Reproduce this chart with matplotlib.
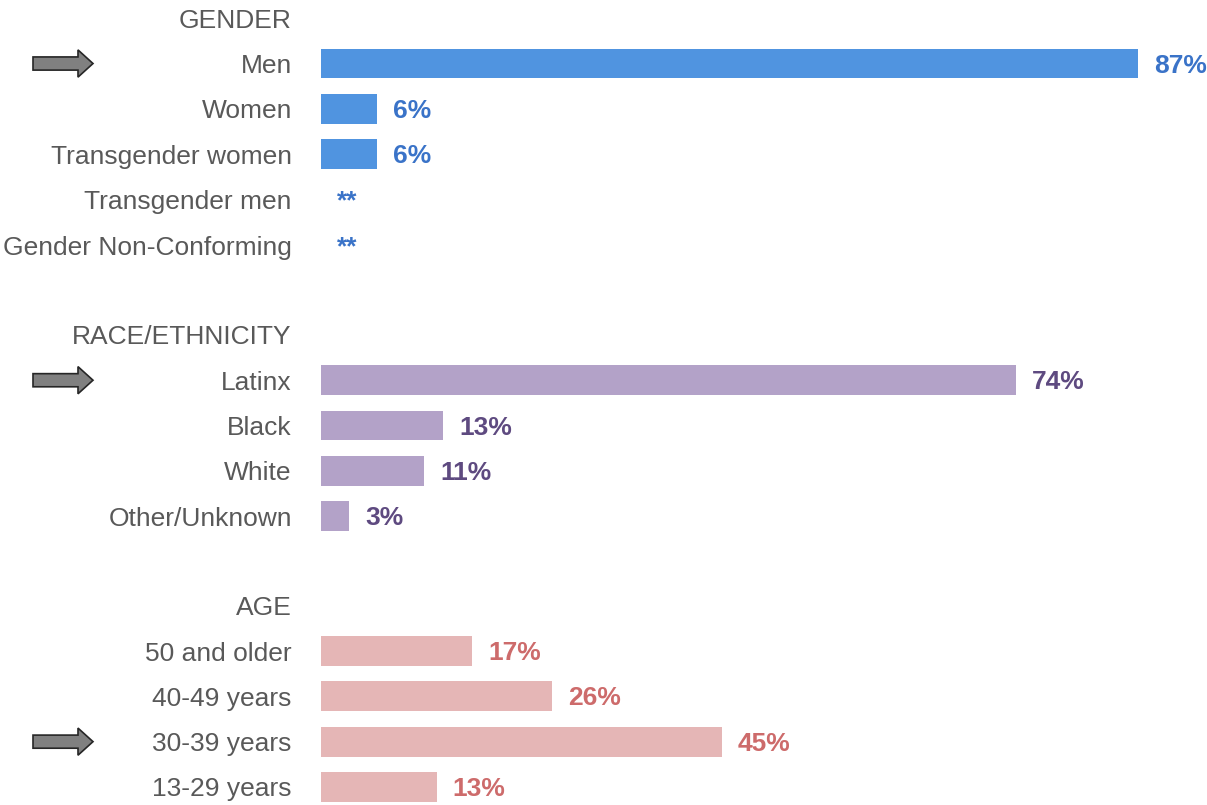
import numpy as np
import matplotlib.pyplot as plt
import matplotlib.transforms as mtransforms
from matplotlib.patches import FancyArrow

plt.rcParams['font.family'] = ['Liberation Sans', 'DejaVu Sans']

# data (None = suppressed, shown as **)
gender_labels = ["Men", "Women", "Transgender women", "Transgender men", "Gender Non-Conforming"]
gender_values = [87, 6, 6, None, None]
race_labels = ["Latinx", "Black", "White", "Other/Unknown"]
race_values = [74, 13, 11, 3]
age_labels = ["50 and older", "40-49 years", "30-39 years", "13-29 years"]
age_values = [17, 26, 45, 13]

W, H = 1207, 805
LEFT = 321
fig = plt.figure(figsize=(W / 100, H / 100), dpi=100)


def add_section(top_px, bottom_px, ylim, header, labels, values, bar_color, text_color, xmax, arrow_label):
    ax = fig.add_axes([LEFT / W, 1 - bottom_px / H, (W - LEFT) / W, (bottom_px - top_px) / H])
    ys = np.arange(1, len(labels) + 1)
    vals = [v if v is not None else 0 for v in values]
    ax.barh(ys, vals, height=0.66, color=bar_color)
    for y, v in zip(ys, values):
        txt = f"{v}%" if v is not None else "**"
        ax.annotate(txt, (v or 0, y), xytext=(11.5, -1.5), textcoords='offset points',
                    va='center', ha='left', fontweight='bold', color=text_color, fontsize=19)
    ax.set_yticks(np.arange(0, len(labels) + 1))
    ax.set_yticklabels([header] + labels)
    ax.set_ylim(*ylim)
    ax.set_xlim(0, xmax)
    ax.set_xticks([])
    ax.tick_params(axis='y', length=0, pad=21, labelsize=19, labelcolor='#595959')
    for s in ax.spines.values():
        s.set_visible(False)
    # grey arrow pointing at the largest group
    y = labels.index(arrow_label) + 1
    tr = mtransforms.blended_transform_factory(fig.transFigure, ax.transData)
    arr = FancyArrow(33 / W, y, 45 / W, 0, width=0.29, head_width=0.6, head_length=15 / W,
                     transform=tr, facecolor='#808080', edgecolor='#262626', lw=1.2, clip_on=False)
    fig.add_artist(arr)
    return ax


add_section(0, 267.7, (5.5, -0.4), "GENDER", gender_labels, gender_values,
            '#5094E0', '#3A73C8', 886 / 9.39, "Men")
add_section(312.3, 538.7, (4.5, -0.5), "RACE/ETHNICITY", race_labels, race_values,
            '#B3A2C8', '#5E4A80', 886 / 9.39, "Latinx")
add_section(583.3, 805, (4.4, -0.5), "AGE", age_labels, age_values,
            '#E5B6B6', '#CD6B6B', 886 / 8.9, "30-39 years")

fig.savefig("out.png", dpi=100)
